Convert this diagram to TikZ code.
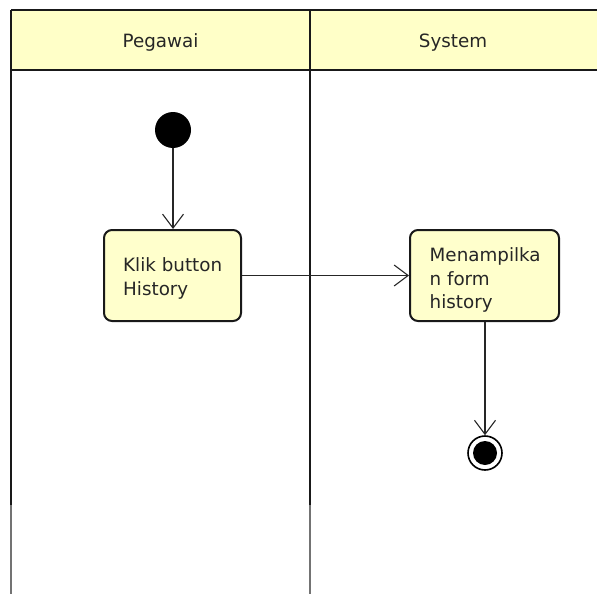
\documentclass[tikz,border=0pt]{standalone}
\usepackage{fontspec}
\setmainfont{DejaVu Sans}
\usetikzlibrary{arrows.meta}
\definecolor{laneyellow}{HTML}{FFFFC8}
\definecolor{actyellow}{HTML}{FFFFCC}
\tikzset{
  x=1pt, y=-1pt,
  umlfont/.style={font=\fontsize{18.3}{23.5}\selectfont, text=black!85},
  lanetext/.style={umlfont, inner sep=0pt, anchor=base},
  action/.style={draw=black!90, line width=2pt, fill=actyellow, rounded corners=8pt,
    inner sep=0pt},
  actiontext/.style={umlfont, align=left, anchor=north west, inner sep=0pt},
  flow/.style={draw=black!85, line width=1.1pt, -{Straight Barb[length=14pt,width=21pt,line width=1.1pt]}},
  laneline/.style={draw=black!90, line width=2.8pt},
  lanefade/.style={draw=black!55, line width=2.8pt}
}
\begin{document}
\begin{tikzpicture}
\useasboundingbox (0,0) rectangle (597,594);
% swimlane header
\fill[laneyellow] (11,10) rectangle (597,70);
\draw[laneline] (597,10) -- (11,10);
\draw[laneline] (11,70) -- (597,70);
\draw[laneline] (11,10) -- (11,505);
\draw[laneline] (310,10) -- (310,505);
\draw[lanefade] (11,505) -- (11,594);
\draw[lanefade] (310,505) -- (310,594);
\node[lanetext] (hp) at (160.5,47.3) {Pegawai};
\node[lanetext] (hs) at (453,47.3) {System};
% activity flow
\node[circle, fill=black, minimum size=36pt, inner sep=0pt] (start) at (173,130) {};
\node[action, minimum width=137pt, minimum height=91pt] (klik) at (172.5,275.5) {};
\node[actiontext] (klikt) at (123,257.8) {Klik button\\History};
\node[action, minimum width=149pt, minimum height=91pt] (tampil) at (484.5,275.5) {};
\node[actiontext] (tampilt) at (429.5,247.8) {Menampilka\\n form\\history};
\node[circle, draw=black, line width=1.6pt, fill=white, minimum size=34pt, inner sep=0pt] (end) at (485,453) {};
\node[circle, fill=black, minimum size=24pt, inner sep=0pt] (endin) at (485,453) {};
\draw[flow] (start) -- (start |- klik.north);
\draw[flow] (klik) -- (tampil);
\draw[flow] (end |- tampil.south) -- (end);
\end{tikzpicture}
\end{document}
